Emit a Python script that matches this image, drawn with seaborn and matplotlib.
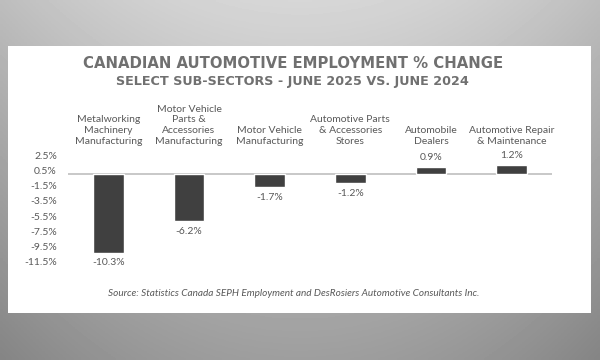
import numpy as np
import matplotlib
matplotlib.use("Agg")
import matplotlib.pyplot as plt
from matplotlib.patches import Rectangle
import seaborn as sns

# data
categories = ["Metalworking\nMachinery\nManufacturing",
              "Motor Vehicle\nParts &\nAccessories\nManufacturing",
              "Motor Vehicle\nManufacturing",
              "Automotive Parts\n& Accessories\nStores",
              "Automobile\nDealers",
              "Automotive Repair\n& Maintenance"]
pct_change = [-10.3, -6.2, -1.7, -1.2, 0.9, 1.2]
y_ticks = [2.5, 0.5, -1.5, -3.5, -5.5, -7.5, -9.5, -11.5]
y_tick_labels = ["2.5%", "0.5%", "-1.5%", "-3.5%", "-5.5%", "-7.5%", "-9.5%", "-11.5%"]

sns.set_style("white")
plt.rcParams['font.family'] = ['Lato', 'DejaVu Sans']
txt = '#595959'

fig = plt.figure(figsize=(6, 3.6), dpi=100)

# grey backdrop with a soft gradient
bg = fig.add_axes([0, 0, 1, 1], zorder=-10)
yy = np.linspace(0, 1, 120)[:, None]
xx = np.linspace(-1, 1, 200)[None, :]
shade = 0.84 - 0.22 * yy - 0.10 * xx ** 2
bg.imshow(shade, cmap='gray', vmin=0, vmax=1, aspect='auto', extent=[0, 1, 0, 1])
bg.set_axis_off()

# white panel
fig.patches.append(Rectangle((8 / 600, 1 - 313 / 360), 583 / 600, 267 / 360,
                             transform=fig.transFigure, facecolor='white',
                             edgecolor='none', zorder=-5))

ax = fig.add_axes([68 / 600, 1 - 265.6 / 360, 484 / 600, 114.1 / 360])
ax.patch.set_alpha(0)
sns.barplot(x=categories, y=pct_change, color='#404040', saturation=1,
            width=0.38, ax=ax)
ax.set_xlim(-0.5, 5.5)
ax.set_ylim(-12, 3)
ax.axhline(0, color='#bfbfbf', lw=1.2, zorder=0)
ax.set_yticks(y_ticks)
ax.set_yticklabels(y_tick_labels)
ax.tick_params(axis='y', length=0, pad=8, labelsize=7.5, labelcolor=txt)
ax.xaxis.set_ticks_position('top')
ax.tick_params(axis='x', length=0, pad=4, labelsize=7.5, labelcolor=txt)
for lbl in ax.get_xticklabels():
    lbl.set_linespacing(1.25)
sns.despine(ax=ax, left=True, bottom=True, top=True, right=True)

ax.bar_label(ax.containers[0], labels=[f"{v}%" for v in pct_change],
             padding=4, fontsize=7.5, color=txt)

head = ['DejaVu Sans']
fig.text(0.488, 1 - 63 / 360, "CANADIAN AUTOMOTIVE EMPLOYMENT % CHANGE",
         ha='center', va='center', fontsize=10.7, fontweight='bold',
         color='#707070', family=head)
fig.text(0.488, 1 - 81 / 360, "SELECT SUB-SECTORS - JUNE 2025 VS. JUNE 2024",
         ha='center', va='center', fontsize=9.2, fontweight='bold',
         color='#707070', family=head)
fig.text(0.49, 1 - 294 / 360,
         "Source: Statistics Canada SEPH Employment and DesRosiers Automotive Consultants Inc.",
         ha='center', va='center', fontsize=7.2, style='italic', color=txt)

plt.savefig('out.png', dpi=100)
plt.close()
